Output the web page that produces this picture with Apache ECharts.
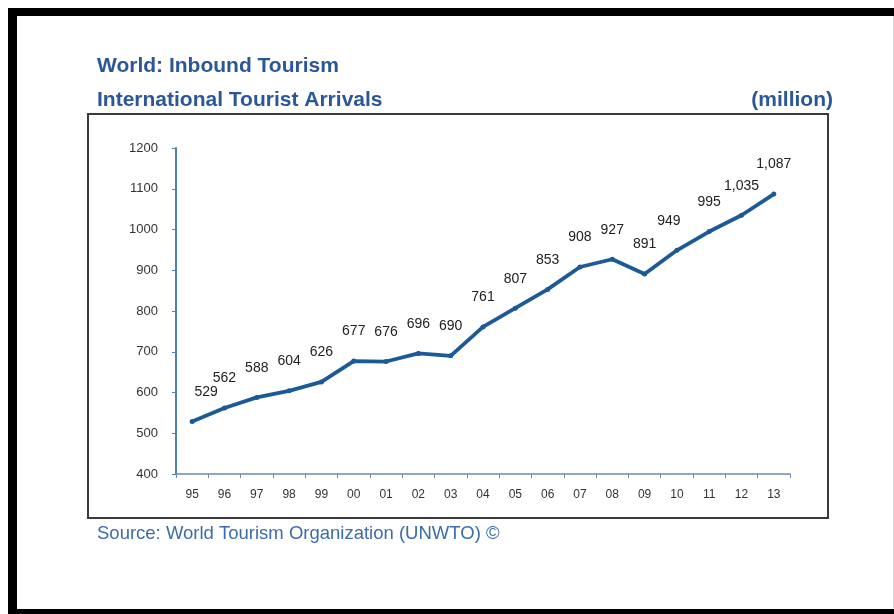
<!DOCTYPE html>
<html>
<head>
<meta charset="utf-8">
<script src="https://cdn.jsdelivr.net/npm/echarts@6/dist/echarts.min.js"></script>
<style>
html,body{margin:0;padding:0;background:#fff;}
#chart{width:894px;height:614px;}
</style>
</head>
<body>
<div id="chart"></div>
<script>
var years = ['95','96','97','98','99','00','01','02','03','04','05','06','07','08','09','10','11','12','13'];
var arrivals = [529,562,588,604,626,677,676,696,690,761,807,853,908,927,891,949,995,1035,1087];
var yTicks = [400,500,600,700,800,900,1000,1100,1200];

var FONT = '"Liberation Sans Narrow","Liberation Sans",Arial,sans-serif';
var chart = echarts.init(document.getElementById('chart'), null, {renderer:'canvas'});

function fmt(v){ return v >= 1000 ? Math.floor(v/1000) + ',' + String(v%1000).padStart(3,'0') : String(v); }

var labelShift = {0:[14,0], 15:[-8,0]};
var seriesData = arrivals.map(function(v,i){
  var d = {value:v};
  if (labelShift[i]) d.label = {offset: labelShift[i]};
  return d;
});

chart.setOption({
  backgroundColor:'#ffffff',
  animation:false,
  graphic:[
    {type:'rect', shape:{x:8,y:8,width:886,height:8}, style:{fill:'#000'}, z:100},
    {type:'rect', shape:{x:8,y:8,width:9,height:606}, style:{fill:'#000'}, z:100},
    {type:'rect', shape:{x:8,y:609,width:886,height:5}, style:{fill:'#000'}, z:100},
    {type:'rect', shape:{x:893,y:16,width:1,height:593}, style:{fill:'#d8d8d8'}, z:100},
    {type:'rect', shape:{x:88,y:114,width:740,height:404}, style:{fill:'none', stroke:'#3a3a3a', lineWidth:2}, z:1},
    {type:'text', left:97, top:56, style:{text:'World: Inbound Tourism', font:'bold 21px '+FONT, fill:'#2b5797'}},
    {type:'text', left:97, top:90, style:{text:'International Tourist Arrivals', font:'bold 21px '+FONT, fill:'#2b5797'}},
    {type:'text', right:61, top:90, style:{text:'(million)', font:'bold 21px '+FONT, fill:'#2b5797'}},
    {type:'text', left:97, top:524, style:{text:'Source: World Tourism Organization (UNWTO) \u00a9', font:'18.5px '+FONT, fill:'#3b6cab'}}
  ],
  grid:{left:176, right:104, top:148, bottom:140, containLabel:false},
  xAxis:{
    type:'category',
    data:years,
    boundaryGap:true,
    axisLine:{lineStyle:{color:'#6b8bb0', width:1.5}},
    axisTick:{show:true, alignWithLabel:false, length:4, lineStyle:{color:'#6b8bb0'}},
    axisLabel:{color:'#333', fontSize:12, fontFamily:FONT, margin:15}
  },
  yAxis:{
    type:'value',
    min:yTicks[0], max:yTicks[yTicks.length-1], interval:100,
    splitLine:{show:false},
    axisLine:{show:true, lineStyle:{color:'#4f7fb5', width:2}},
    axisTick:{show:true, length:4, lineStyle:{color:'#4f7fb5'}},
    axisLabel:{color:'#333', fontSize:13, fontFamily:FONT, margin:18, formatter:function(v){return String(v);}}
  },
  series:[{
    type:'line',
    data:seriesData,
    symbol:'circle',
    symbolSize:5,
    lineStyle:{color:'#1b5a97', width:3.8},
    itemStyle:{color:'#1b5a97'},
    label:{show:true, position:'top', distance:20, color:'#222', fontSize:14, fontFamily:FONT,
      formatter:function(p){ return fmt(p.value); }}
  }]
});
</script>
</body>
</html>
